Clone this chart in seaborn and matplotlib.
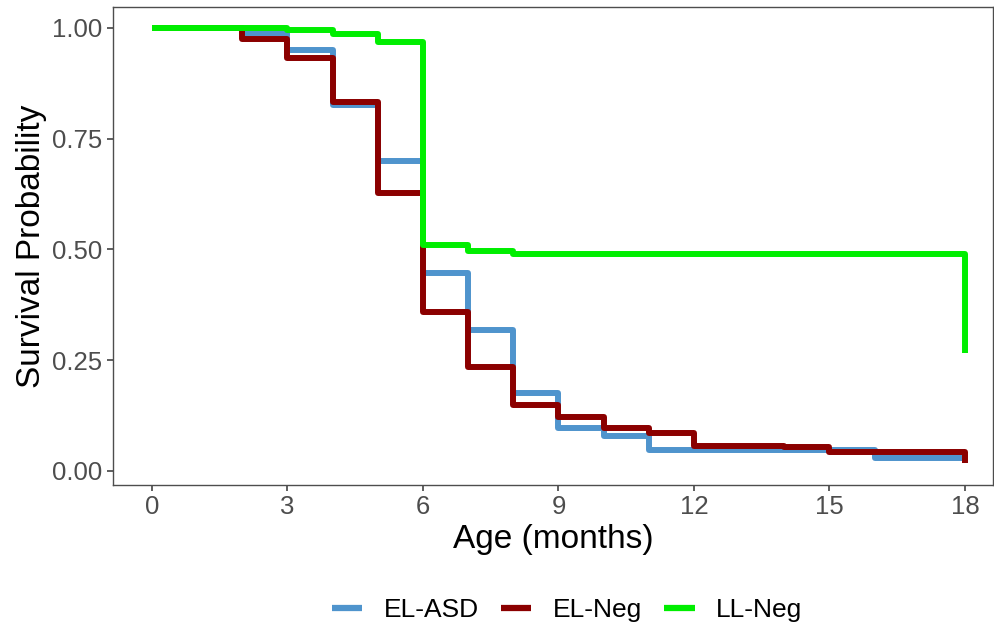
import numpy as np
import pandas as pd
import matplotlib
matplotlib.use("Agg")
import matplotlib.pyplot as plt
import seaborn as sns

# Kaplan-Meier style step estimates per group
groups = ["EL-ASD", "EL-Neg", "LL-Neg"]

el_asd_time = [0, 2, 3, 4, 5, 6, 7, 8, 9, 10, 11, 16, 18]
el_asd_surv = [1.0, 0.989, 0.950, 0.826, 0.700, 0.447, 0.318, 0.176, 0.097, 0.079, 0.047, 0.030, 0.030]

el_neg_time = [0, 2, 3, 4, 5, 6, 7, 8, 9, 10, 11, 12, 14, 15, 18]
el_neg_surv = [1.0, 0.975, 0.932, 0.833, 0.628, 0.359, 0.235, 0.149, 0.122, 0.097, 0.086, 0.056, 0.053, 0.043, 0.018]

ll_neg_time = [0, 3, 4, 5, 6, 7, 8, 18]
ll_neg_surv = [1.0, 0.994, 0.986, 0.967, 0.510, 0.497, 0.490, 0.266]

x_ticks = [0, 3, 6, 9, 12, 15, 18]
y_ticks = [0.00, 0.25, 0.50, 0.75, 1.00]
y_tick_labels = ["0.00", "0.25", "0.50", "0.75", "1.00"]

colors = {"EL-ASD": "#4F94CD", "EL-Neg": "#8B0000", "LL-Neg": "#00EE00"}

frames = []
for name, t, s in [("EL-ASD", el_asd_time, el_asd_surv),
                   ("EL-Neg", el_neg_time, el_neg_surv),
                   ("LL-Neg", ll_neg_time, ll_neg_surv)]:
    frames.append(pd.DataFrame({"Age": t, "Survival": s, "Group": name}))
df = pd.concat(frames, ignore_index=True)

sns.set_style("white")
plt.rcParams["font.family"] = ["Liberation Sans", "DejaVu Sans"]

fig = plt.figure(figsize=(9.94, 6.28), dpi=100)
ax = fig.add_axes([113 / 994, 1 - 485 / 628, 880 / 994, 478 / 628])

sns.lineplot(data=df, x="Age", y="Survival", hue="Group", hue_order=groups,
             palette=colors, estimator=None, sort=False, drawstyle="steps-post",
             linewidth=4.3, ax=ax, legend=False,
             solid_capstyle="butt", solid_joinstyle="round")

ax.set_xlim(-0.863, 18.62)
ax.set_ylim(-0.032, 1.047)
ax.set_xticks(x_ticks)
ax.set_xticklabels([str(v) for v in x_ticks])
ax.set_yticks(y_ticks)
ax.set_yticklabels(y_tick_labels)
ax.tick_params(axis="both", which="major", bottom=True, left=True,
               labelsize=18.5, labelcolor="#4D4D4D",
               color="#333333", length=4.5, width=1.1, direction="out", pad=3)
for sp in ax.spines.values():
    sp.set_color("#4D4D4D")
    sp.set_linewidth(1.0)

ax.set_xlabel("Age (months)", fontsize=24, color="black", labelpad=3)
ax.set_ylabel("Survival Probability", fontsize=24, color="black", labelpad=4)

handles = [plt.Line2D([0], [0], color=colors[g], linewidth=4.5, solid_capstyle="butt") for g in groups]
fig.legend(handles, groups, loc="center", bbox_to_anchor=(567 / 994, 1 - 610 / 628),
           ncol=3, frameon=False, fontsize=19, handlelength=1.15,
           handletextpad=0.8, columnspacing=0.85, labelcolor="black")

fig.savefig("out.png", dpi=100)
